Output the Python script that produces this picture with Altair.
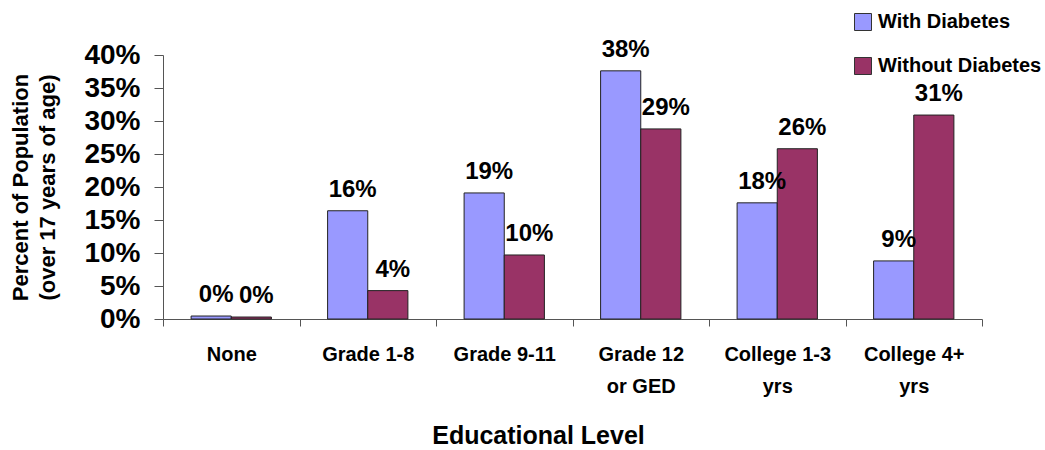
import altair as alt
import pandas as pd

categories = ["None", "Grade 1-8", "Grade 9-11", "Grade 12|or GED", "College 1-3|yrs", "College 4+|yrs"]
with_diabetes = [0.45, 16.4, 19.1, 37.6, 17.6, 8.8]
without_diabetes = [0.3, 4.3, 9.7, 28.8, 25.8, 30.9]
series = ["With Diabetes", "Without Diabetes"]
colors = ["#9999FF", "#993366"]
y_ticks = [0, 0.05, 0.1, 0.15, 0.2, 0.25, 0.3, 0.35, 0.4]

rows = []
for c, a, b in zip(categories, with_diabetes, without_diabetes):
    rows.append({"cat": c, "series": series[0], "v": a / 100})
    rows.append({"cat": c, "series": series[1], "v": b / 100})
df = pd.DataFrame(rows)

FONT = "Liberation Sans"

x = alt.X("cat:N", sort=categories,
          scale=alt.Scale(paddingInner=0, paddingOuter=0),
          axis=alt.Axis(title="Educational Level", labelAngle=0,
                        labelExpr="split(datum.label, '|')",
                        labelFontSize=20, labelFont=FONT, labelFontWeight="bold",
                        labelLineHeight=32, labelPadding=18, labelColor="black",
                        labelBaseline="top",
                        tickBand="extent", tickSize=7, tickColor="#555",
                        domainColor="#555",
                        titleFontSize=25, titleFont=FONT, titleFontWeight="bold",
                        titleX=375, titleY=116, titleBaseline="middle", titleColor="black"))
xo = alt.XOffset("series:N", sort=series,
                 scale=alt.Scale(paddingInner=0, paddingOuter=0.7))
y = alt.Y("v:Q", scale=alt.Scale(domain=[0, 0.4], nice=False),
          axis=alt.Axis(format=".0%", values=y_ticks, tickCount=9,
                        grid=False, tickSize=9, tickColor="#555", domainColor="#555",
                        labelOverlap=False,
                        labelFontSize=28, labelFont=FONT, labelFontWeight="bold",
                        labelColor="black", labelPadding=14,
                        title=["Percent of Population", "(over 17 years of age)"],
                        titleFontSize=22, titleFont=FONT, titleFontWeight="bold",
                        titleColor="black", titleLineHeight=27, titleX=-131, titleAngle=270))
color = alt.Color("series:N", sort=series,
                  scale=alt.Scale(domain=series, range=colors),
                  legend=alt.Legend(title=None, orient="none", legendX=690, legendY=-43,
                                    symbolType="square", symbolSize=289,
                                    symbolStrokeColor="#333", symbolStrokeWidth=1,
                                    labelFontSize=20, labelFont=FONT, labelFontWeight="bold",
                                    labelColor="black", rowPadding=22, labelOffset=5,
                                    labelLimit=300))

bars = alt.Chart(df).mark_bar(stroke="#222", strokeWidth=1).encode(
    x=x, xOffset=xo, y=y, color=color)

labels = alt.Chart(df).mark_text(baseline="bottom", dy=-9, dx=5, fontSize=24, font=FONT,
                                 fontWeight="bold", color="black").encode(
    x=x, xOffset=xo, y=y, text=alt.Text("v:Q", format=".0%"))

chart = alt.layer(bars, labels).properties(
    width=819, height=264,
    background="white",
    autosize=alt.AutoSizeParams(type="none"),
    padding={"left": 163, "top": 55, "right": 63, "bottom": 131},
).configure_view(stroke=None)

chart.save("out.html", embed_options={"renderer": "svg", "actions": False})
